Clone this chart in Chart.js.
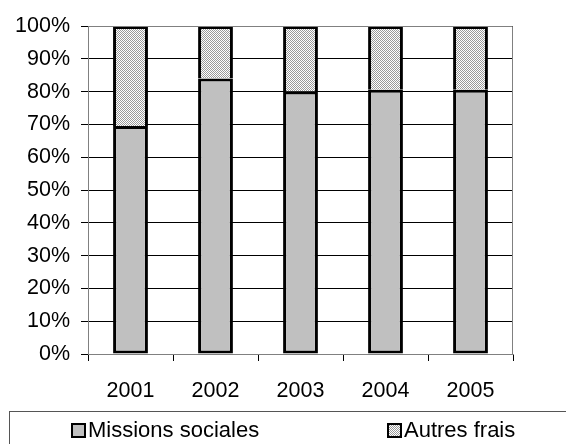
<!DOCTYPE html>
<html>
<head>
<meta charset="utf-8">
<script src="https://cdn.jsdelivr.net/npm/chart.js@4/dist/chart.umd.min.js"></script>
<style>
  html, body { margin: 0; padding: 0; background: #fff; }
  #wrap { position: relative; width: 566px; height: 444px; overflow: hidden; }
  #chart { position: absolute; left: 0; top: 0; }
  #legend {
    position: absolute; left: 9px; top: 411px; width: 600px; height: 60px;
    border: 1px solid #555; box-sizing: border-box;
    font-family: "Liberation Sans", Arial, sans-serif; font-size: 22px; color: #000;
  }
  .item { position: absolute; top: 3px; height: 30px; display: flex; align-items: center; white-space: nowrap; }
  .swatch { width: 11px; height: 11px; border: 2px solid #000; margin-right: 2px; }
</style>
</head>
<body>
<div id="wrap">
  <canvas id="chart" width="566" height="444"></canvas>
  <div id="legend"></div>
</div>
<script>
// Years and shares (in %) of total spending
const years = ['2001', '2002', '2003', '2004', '2005'];
const missionsSociales = [69.5, 84, 80, 80.6, 80.6];
const autresFrais = [30.5, 16, 20, 19.4, 19.4];
const seriesNames = ['Missions sociales', 'Autres frais'];

// Fine dotted fill for the "Autres frais" segments
function makeDots() {
  const c = document.createElement('canvas');
  c.width = 2; c.height = 2;
  const g = c.getContext('2d');
  g.fillStyle = '#ffffff'; g.fillRect(0, 0, 2, 2);
  g.fillStyle = '#9a9a9a'; g.fillRect(0, 0, 1, 1); g.fillRect(1, 1, 1, 1);
  return c;
}
const dotCanvas = makeDots();
const dotPattern = document.getElementById('chart').getContext('2d').createPattern(dotCanvas, 'repeat');

const FONT = { family: '"Liberation Sans", Arial, sans-serif', size: 21.5 };

// Gray frame around the plot area
const frame = {
  id: 'frame',
  afterDatasetsDraw(chart) {
    const { ctx, chartArea: a } = chart;
    ctx.save();
    ctx.strokeStyle = '#808080';
    ctx.lineWidth = 1;
    ctx.beginPath();
    ctx.moveTo(a.left + 0.5, a.top + 0.5);
    ctx.lineTo(a.right - 0.5, a.top + 0.5);
    ctx.lineTo(a.right - 0.5, a.bottom);
    ctx.stroke();
    ctx.restore();
  }
};

const chart = new Chart(document.getElementById('chart'), {
  type: 'bar',
  data: {
    labels: years,
    datasets: [
      { label: seriesNames[0], data: missionsSociales, backgroundColor: '#c0c0c0',
        borderColor: '#000', borderWidth: 3, borderSkipped: false,
        barPercentage: 0.41, categoryPercentage: 1.0 },
      { label: seriesNames[1], data: autresFrais, backgroundColor: dotPattern,
        borderColor: '#000', borderWidth: { top: 3, left: 3, right: 3, bottom: 0 }, borderSkipped: false,
        barPercentage: 0.41, categoryPercentage: 1.0 }
    ]
  },
  options: {
    responsive: false,
    animation: false,
    devicePixelRatio: 1,
    layout: { padding: { left: 0, right: 53, top: 26, bottom: 34 } },
    plugins: { legend: { display: false }, tooltip: { enabled: false } },
    scales: {
      x: {
        stacked: true,
        grid: { offset: true, drawOnChartArea: false, drawTicks: true, tickLength: 7, color: '#000' },
        border: { color: '#808080', width: 1 },
        ticks: { color: '#000', font: FONT, padding: 17, maxRotation: 0 },
        afterFit(s) { s.height = 56; }
      },
      y: {
        stacked: true,
        min: 0, max: 100,
        grid: { color: '#000', lineWidth: 1, tickLength: 7 },
        border: { color: '#808080', width: 1 },
        ticks: { stepSize: 10, color: '#000', font: FONT, padding: 11,
                 callback: v => v + '%' },
        afterFit(s) { s.width = 88; }
      }
    }
  },
  plugins: [frame]
});

// Legend built from the datasets
const legend = document.getElementById('legend');
const lefts = [61, 377];
chart.data.datasets.forEach((ds, i) => {
  const item = document.createElement('div');
  item.className = 'item';
  item.style.left = lefts[i] + 'px';
  const sw = document.createElement('span');
  sw.className = 'swatch';
  if (i === 0) sw.style.background = ds.backgroundColor;
  else sw.style.background = 'url(' + dotCanvas.toDataURL() + ')';
  const tx = document.createElement('span');
  tx.textContent = ds.label;
  item.appendChild(sw); item.appendChild(tx);
  legend.appendChild(item);
});
</script>
</body>
</html>
